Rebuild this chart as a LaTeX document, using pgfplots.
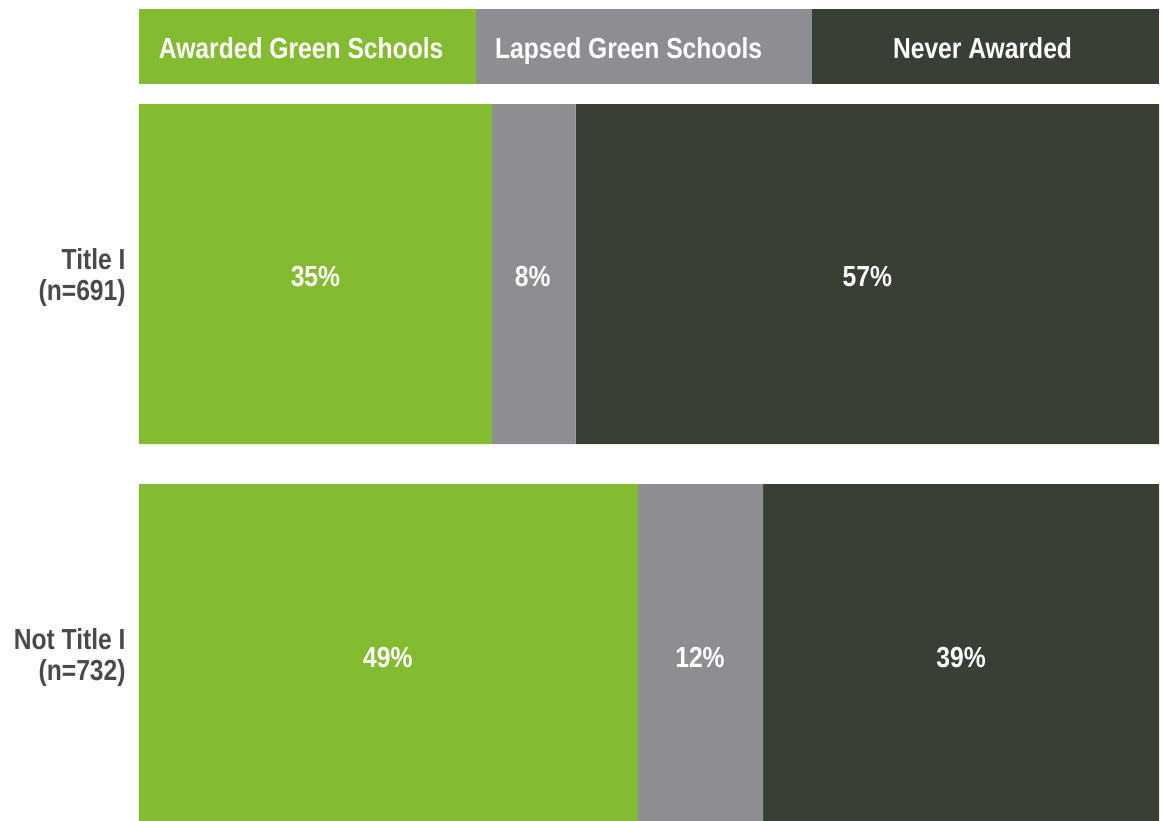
\documentclass[border=0pt]{standalone}
\usepackage{pgfplots}
\pgfplotsset{compat=1.18}
\usepackage{fontspec}
\setmainfont{Liberation Sans}[FakeStretch=0.85]
\definecolor{cgreen}{HTML}{84BC31}
\definecolor{cgray}{HTML}{8E8D92}
\definecolor{cdark}{HTML}{3A3F36}
\definecolor{ctext}{HTML}{4A4A4A}
\newcommand{\lblfont}{\bfseries\fontsize{14.5}{15.5}\selectfont}
\tikzset{lbl/.style={text=white, font=\lblfont, text height=10.4pt, text depth=0pt}}
\begin{document}
\begin{tikzpicture}
\begin{axis}[
  scale only axis,
  width=510pt, height=405.5pt,
  xmin=0, xmax=100, ymin=9, ymax=820,
  y dir=reverse,
  xbar stacked,
  bar width=340,
  axis line style={draw=none},
  tick style={draw=none},
  xtick=\empty,
  ytick={274,654},
  yticklabels={{Title I\\(n=691)},{Not Title I\\(n=732)}},
  yticklabel style={align=right, inner sep=0pt, xshift=-6.5pt, yshift=-1.5pt, text=ctext,
    font=\lblfont},
]
\addplot[fill=cgreen, draw=none] coordinates {(34.6,274) (48.9,654)};
\addplot[fill=cgray, draw=none] coordinates {(8.2,274) (12.3,654)};
\addplot[fill=cdark, draw=none] coordinates {(57.2,274) (38.8,654)};
\fill[cgreen] (axis cs:0,9) rectangle (axis cs:33.04,84);
\fill[cgray] (axis cs:33.04,9) rectangle (axis cs:65.98,84);
\fill[cdark] (axis cs:65.98,9) rectangle (axis cs:100,84);
\coordinate (l1) at (axis cs:15.9,48);
\coordinate (l2) at (axis cs:48.0,48);
\coordinate (l3) at (axis cs:82.7,48);
\coordinate (a1) at (axis cs:17.3,276);
\coordinate (a2) at (axis cs:38.6,276);
\coordinate (a3) at (axis cs:71.4,276);
\coordinate (b1) at (axis cs:24.4,657);
\coordinate (b2) at (axis cs:55.0,657);
\coordinate (b3) at (axis cs:80.6,657);
\end{axis}
\node[lbl] at (l1) {Awarded Green Schools};
\node[lbl] at (l2) {Lapsed Green Schools};
\node[lbl] at (l3) {Never Awarded};
\node[lbl] at (a1) {35\%};
\node[lbl] at (a2) {8\%};
\node[lbl] at (a3) {57\%};
\node[lbl] at (b1) {49\%};
\node[lbl] at (b2) {12\%};
\node[lbl] at (b3) {39\%};
\path ([shift={(-69.5pt,4.5pt)}]current axis.north west) rectangle ([shift={(2pt,0pt)}]current axis.south east);
\end{tikzpicture}
\end{document}
